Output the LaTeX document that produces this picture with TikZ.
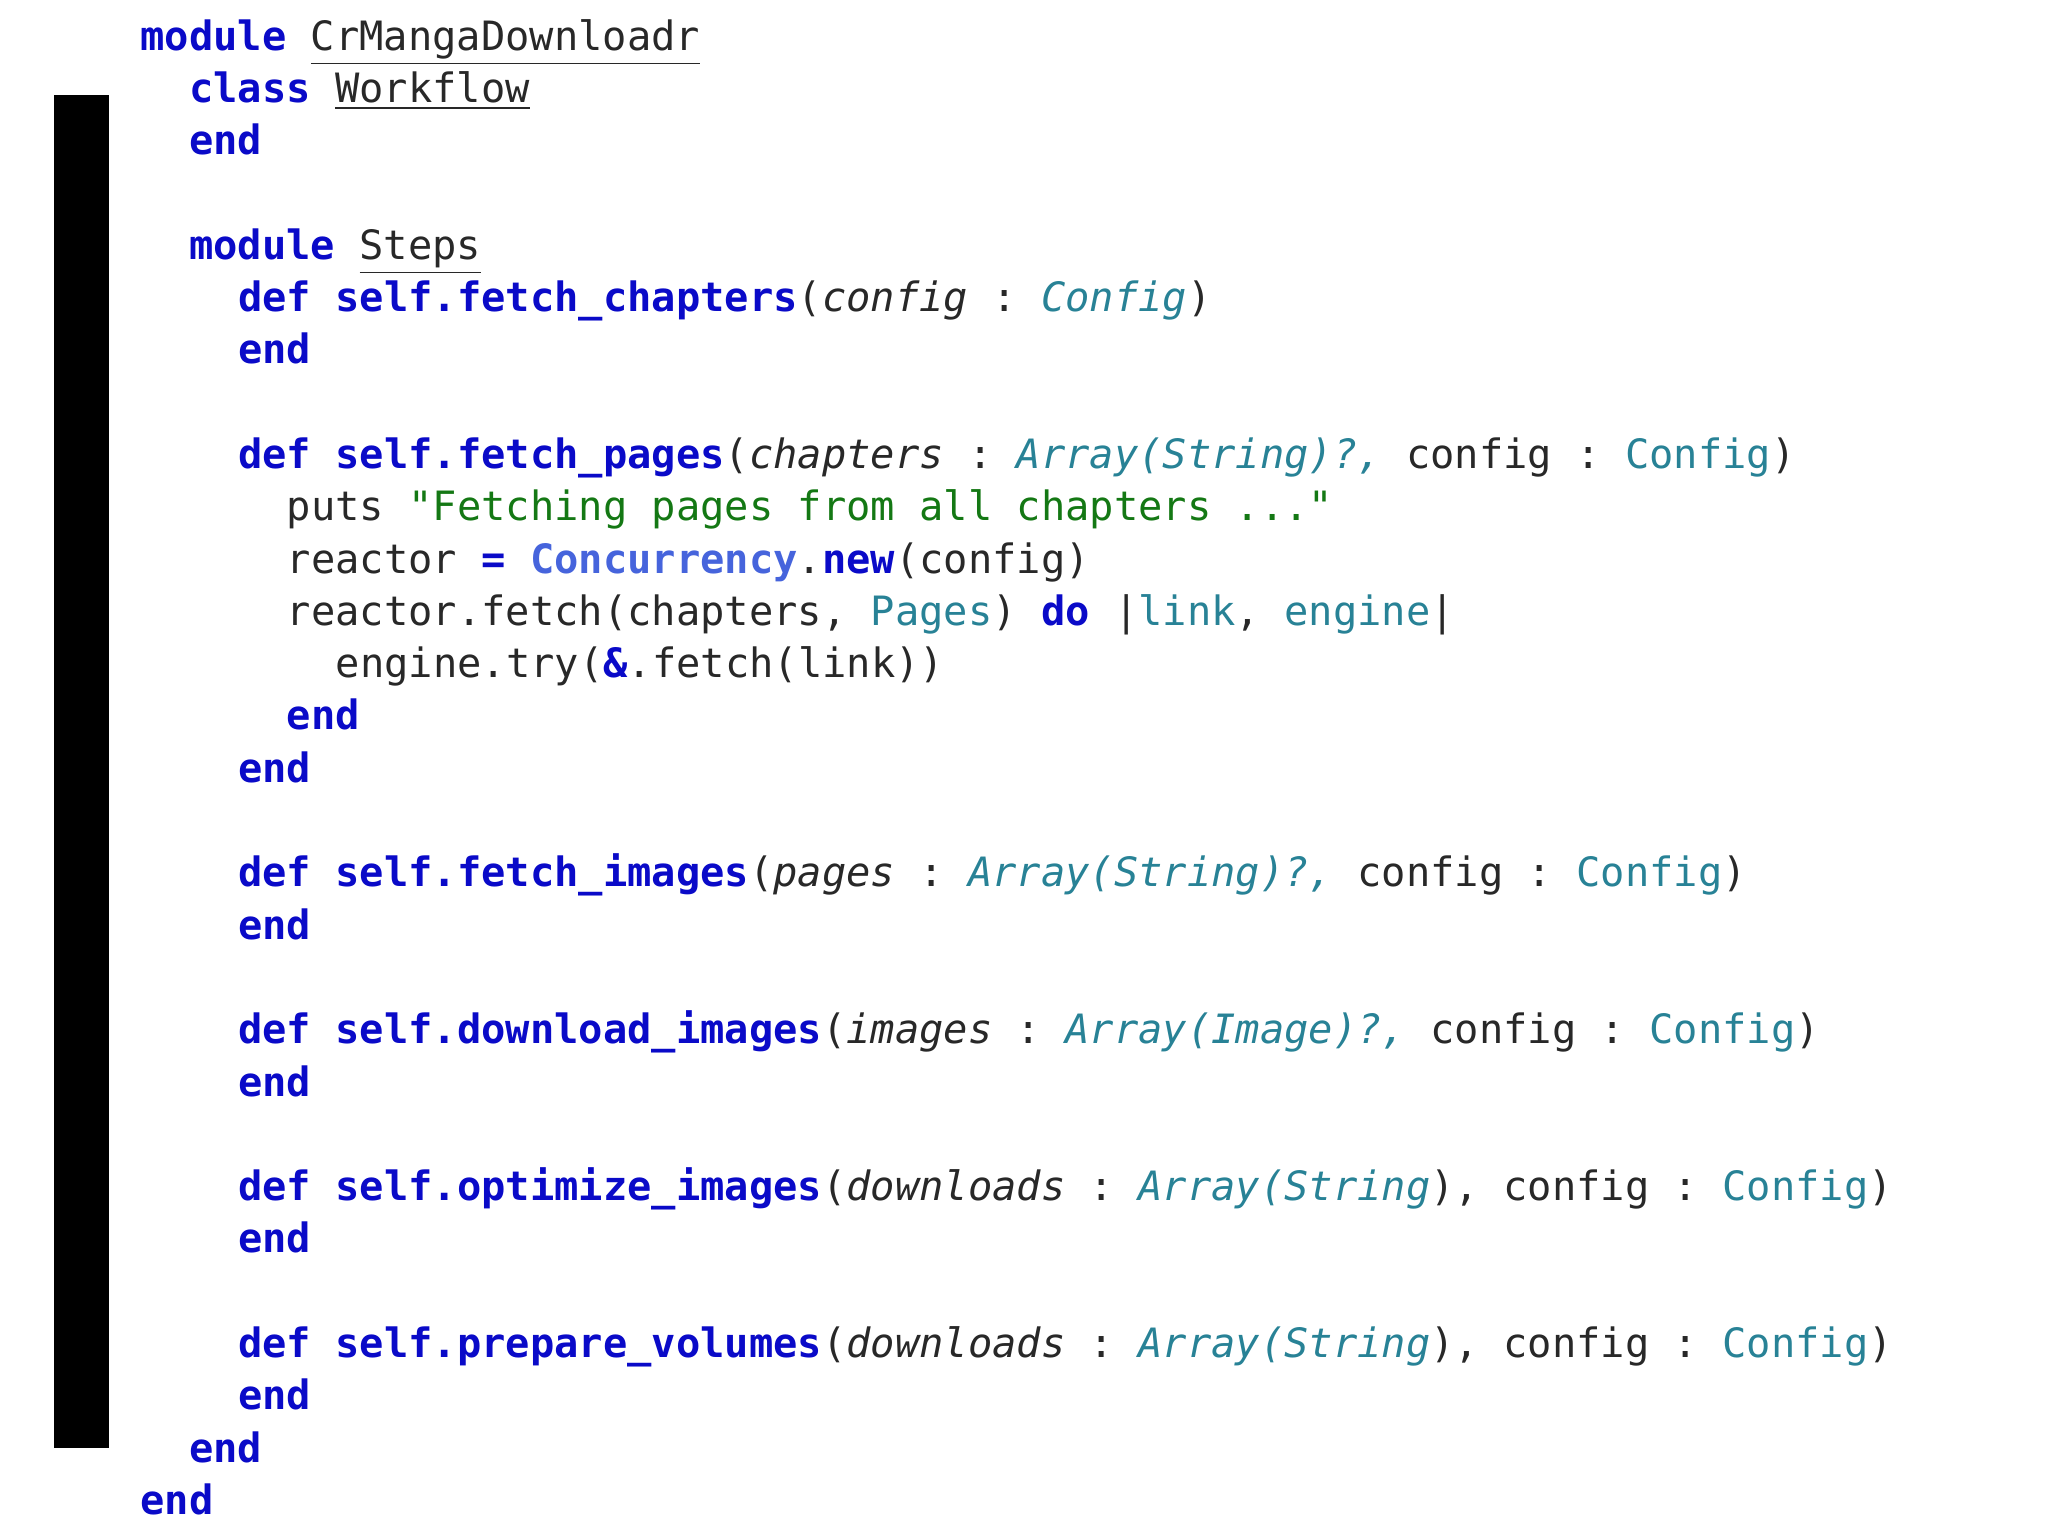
\documentclass[tikz,border=0pt]{standalone}
\usepackage{fontspec}
\setmonofont{DejaVu Sans Mono}
\definecolor{kwc}{RGB}{10,10,200}
\definecolor{tyc}{RGB}{40,130,150}
\definecolor{txc}{RGB}{40,40,40}
\definecolor{stc}{RGB}{20,120,20}
\definecolor{ccc}{RGB}{70,100,220}
\newcommand{\kw}[1]{\textcolor{kwc}{\bfseries #1}}
\newcommand{\ty}[1]{\textcolor{tyc}{#1}}
\newcommand{\tyi}[1]{\textcolor{tyc}{\itshape #1}}
\newcommand{\pa}[1]{\textcolor{txc}{\itshape #1}}
\begin{document}
\begin{tikzpicture}[x=0.1mm,y=-0.1mm,
  code/.style={anchor=base west,inner sep=0,outer sep=0,text=txc,font=\fontsize{11.5}{14}\selectfont\ttfamily}]
\useasboundingbox (0,0) rectangle (2048,1536);
\fill[black] (54,95) rectangle (109,1448);
\def\L#1#2#3{\node[code] (#1) at ({140.5+#2*48.8},{50+#3*52.3}) {\strut};}
\node[code] (l0) at (140.5,50) {\kw{module} \underline{CrMangaDownloadr}};
\node[code] (l1) at (189.3,102.3) {\kw{class} \underline{Workflow}};
\node[code] (l2) at (189.3,154.6) {\kw{end}};
\node[code] (l4) at (189.3,259.2) {\kw{module} \underline{Steps}};
\node[code] (l5) at (238.1,311.5) {\kw{def self.fetch\_chapters}(\pa{config} : \tyi{Config})};
\node[code] (l6) at (238.1,363.8) {\kw{end}};
\node[code] (l8) at (238.1,468.4) {\kw{def self.fetch\_pages}(\pa{chapters} : \tyi{Array(String)?,} config : \ty{Config})};
\node[code] (l9) at (286.9,520.7) {puts \textcolor{stc}{"Fetching pages from all chapters ..."}};
\node[code] (l10) at (286.9,573.0) {reactor \kw{=} \textcolor{ccc}{\bfseries Concurrency}.\kw{new}(config)};
\node[code] (l11) at (286.9,625.3) {reactor.fetch(chapters, \ty{Pages}) \kw{do} |\ty{link}, \ty{engine}|};
\node[code] (l12) at (335.7,677.6) {engine.try(\kw{\&}.fetch(link))};
\node[code] (l13) at (286.9,729.9) {\kw{end}};
\node[code] (l14) at (238.1,782.2) {\kw{end}};
\node[code] (l16) at (238.1,886.8) {\kw{def self.fetch\_images}(\pa{pages} : \tyi{Array(String)?,} config : \ty{Config})};
\node[code] (l17) at (238.1,939.1) {\kw{end}};
\node[code] (l19) at (238.1,1043.7) {\kw{def self.download\_images}(\pa{images} : \tyi{Array(Image)?,} config : \ty{Config})};
\node[code] (l20) at (238.1,1096.0) {\kw{end}};
\node[code] (l22) at (238.1,1200.6) {\kw{def self.optimize\_images}(\pa{downloads} : \tyi{Array(String}), config : \ty{Config})};
\node[code] (l23) at (238.1,1252.9) {\kw{end}};
\node[code] (l25) at (238.1,1357.5) {\kw{def self.prepare\_volumes}(\pa{downloads} : \tyi{Array(String}), config : \ty{Config})};
\node[code] (l26) at (238.1,1409.8) {\kw{end}};
\node[code] (l27) at (189.3,1462.1) {\kw{end}};
\node[code] (l28) at (140.5,1514.4) {\kw{end}};
\end{tikzpicture}
\end{document}
